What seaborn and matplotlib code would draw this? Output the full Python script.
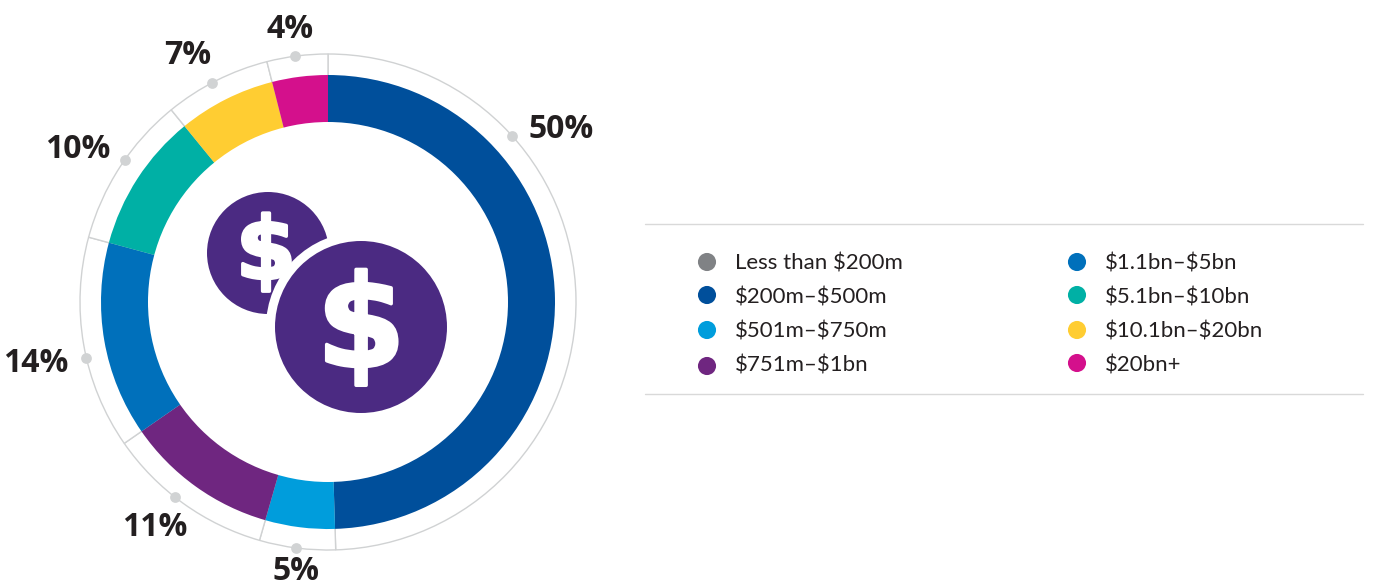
import pandas as pd
import numpy as np
import seaborn as sns
import matplotlib.pyplot as plt
import matplotlib.patheffects as pe
from matplotlib.patches import Circle

shares = [50, 5, 11, 14, 10, 7, 4]
share_labels = ['50%', '5%', '11%', '14%', '10%', '7%', '4%']
share_colors = ['#004f9b', '#009ddc', '#6f2680', '#0070bb', '#00b0a5', '#ffcd32', '#d4108c']

legend_names = ['Less than $200m', '$200m–$500m', '$501m–$750m', '$751m–$1bn',
                '$1.1bn–$5bn', '$5.1bn–$10bn', '$10.1bn–$20bn', '$20bn+']
legend_colors = ['#808285', '#004f9b', '#009ddc', '#6f2680',
                 '#0070bb', '#00b0a5', '#ffcd32', '#d4108c']

# layout, in pixels of the 1375x587 picture
W, H = 1375, 587
cx, cy = 328, 302
dot_angles = [48, 187.4, 218, 257, 305, 332, 352.4]
label_xy = [(561, 129), (296, 572), (155, 528), (36, 363), (78, 150), (188, 56), (290, 29)]
legend_x = [707, 707, 707, 707, 1077, 1077, 1077, 1077]
legend_y = [262, 295, 330, 366, 262, 295, 330, 363]
text_x = [735, 735, 735, 735, 1105, 1105, 1105, 1105]
text_y = [263, 297, 331, 366, 263, 297, 331, 366]

sns.set_theme(style='white')
plt.rcParams['font.family'] = ['Lato', 'DejaVu Sans']

fig = plt.figure(figsize=(W / 100, H / 100), dpi=100)
ax = fig.add_axes([0, 0, 1, 1])


def py(y):
    return H - y


# thin outer ring, its spokes show the slice edges
ax.pie(shares, radius=248, center=(cx, py(cy)), startangle=90, counterclock=False,
       colors=['white'] * len(shares), wedgeprops={'edgecolor': '#d0d2d3', 'linewidth': 1})
# the ring
ax.pie(shares, radius=227, center=(cx, py(cy)), startangle=90, counterclock=False,
       colors=share_colors, wedgeprops={'linewidth': 0})
ax.add_patch(Circle((cx, py(cy)), 180, color='white', lw=0, zorder=3))
ax.set_xlim(0, W)
ax.set_ylim(0, H)
ax.set_aspect('equal')
ax.axis('off')

# dots on the outer ring
rad = np.radians(dot_angles)
dots = pd.DataFrame({'x': cx + 248 * np.sin(rad), 'y': py(cy) + 248 * np.cos(rad)})
sns.scatterplot(data=dots, x='x', y='y', color='#d1d3d4', s=60, linewidth=0, zorder=4, ax=ax, legend=False)

for lab, (x, y) in zip(share_labels, label_xy):
    ax.text(x, py(y), lab, fontsize=23, fontweight='bold', color='#231f20',
            family=['Open Sans'], ha='center', va='center', zorder=5)

# coins icon
purple = '#4b2a82'
heavy = [pe.withStroke(linewidth=2.5, foreground='white')]
ax.add_patch(Circle((268, py(253)), 61, color=purple, lw=0, zorder=5))
ax.text(266, py(255), '$', fontsize=62, fontweight='bold', color='white', family=['DejaVu Sans'],
        ha='center', va='center', parse_math=False, path_effects=heavy, zorder=6)
ax.add_patch(Circle((361, py(327)), 95, color='white', lw=0, zorder=7))
ax.add_patch(Circle((361, py(327)), 86, color=purple, lw=0, zorder=8))
ax.text(361, py(331), '$', fontsize=92, fontweight='bold', color='white', family=['DejaVu Sans'],
        ha='center', va='center', parse_math=False, path_effects=heavy, zorder=9)

# legend
ax.plot([645, 1363], [py(224), py(224)], color='#d9d9d9', lw=1)
ax.plot([645, 1363], [py(394), py(394)], color='#d9d9d9', lw=1)
leg = pd.DataFrame({'x': legend_x, 'y': [py(v) for v in legend_y], 'name': legend_names})
sns.scatterplot(data=leg, x='x', y='y', hue='name', palette=dict(zip(legend_names, legend_colors)),
                s=170, linewidth=0, ax=ax, legend=False)
for name, x, y in zip(legend_names, text_x, text_y):
    ax.text(x, py(y), name, fontsize=16, color='#231f20', ha='left', va='center', parse_math=False)

ax.set_xlabel('')
ax.set_ylabel('')
fig.savefig('out.png', dpi=100, facecolor='white')
